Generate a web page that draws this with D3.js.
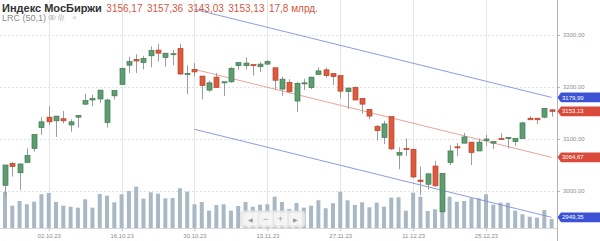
<!DOCTYPE html>
<html>
<head>
<meta charset="utf-8">
<script src="https://cdn.jsdelivr.net/npm/d3@7"></script>
<style>
	body { margin: 0; background: #fff; }
	svg { display: block; font-family: "Liberation Sans", Arial, sans-serif; }
</style>
</head>
<body>
<svg id="chart" width="600" height="241"></svg>
<script>
// trading days (categories)
var dates = [
	"22.09.23","25.09.23","26.09.23","27.09.23","28.09.23","29.09.23",
	"02.10.23","03.10.23","04.10.23","05.10.23","06.10.23",
	"09.10.23","10.10.23","11.10.23","12.10.23","13.10.23",
	"16.10.23","17.10.23","18.10.23","19.10.23","20.10.23",
	"23.10.23","24.10.23","25.10.23","26.10.23","27.10.23",
	"30.10.23","31.10.23","01.11.23","02.11.23","03.11.23",
	"06.11.23","07.11.23","08.11.23","09.11.23","10.11.23",
	"13.11.23","14.11.23","15.11.23","16.11.23","17.11.23",
	"20.11.23","21.11.23","22.11.23","23.11.23","24.11.23",
	"27.11.23","28.11.23","29.11.23","30.11.23","01.12.23",
	"04.12.23","05.12.23","06.12.23","07.12.23","08.12.23",
	"11.12.23","12.12.23","13.12.23","14.12.23","15.12.23",
	"18.12.23","19.12.23","20.12.23","21.12.23","22.12.23",
	"25.12.23","26.12.23","27.12.23","28.12.23","29.12.23",
	"03.01.24","04.01.24","05.01.24","08.01.24","09.01.24"
];
var opens  = [3011,3053,3035,3055,3082,3122,3142,3135,3139,3127,3142,3167,3175,3177,3132,3183,
	3205,3242,3253,3247,3260,3271,3257,3263,3274,3224,3234,3221,3194,3219,3208,3210,3241,3241,
	3243,3239,3244,3237,3196,3209,3173,3206,3199,3224,3233,3226,3222,3191,3199,3178,3157,3124,
	3103,3143,3069,3082,3080,3021,3013,3048,2960,3055,3085,3092,3094,3077,3097,3092,3101,3102,
	3095,3101,3140,3140,3142,3156.17];
var highs  = [3050,3056,3052,3082,3109,3142,3163,3144,3154,3138,3146,3187,3185,3194,3178,3193,
	3236,3258,3263,3260,3278,3283,3265,3271,3283,3242,3246,3221,3212,3227,3210,3238,3248,3257,
	3243,3248,3252,3237,3220,3215,3210,3216,3219,3238,3237,3226,3222,3198,3201,3178,3157,3127,
	3135,3143,3084,3101,3082,3047,3034,3058,3034,3088,3092,3112,3094,3101,3108,3095,3111,3103,
	3101,3133,3144,3140,3159,3157.36];
var lows   = [2990,3028,3002,3055,3076,3108,3127,3104,3130,3114,3122,3165,3163,3169,3122,3176,
	3205,3227,3227,3234,3238,3249,3239,3242,3223,3186,3220,3176,3191,3199,3183,3208,3233,3234,
	3222,3229,3243,3194,3183,3188,3152,3194,3196,3224,3218,3204,3178,3158,3175,3149,3138,3097,
	3090,3079,3042,3067,3025,2992,3003,3008,2960,3050,3067,3092,3050,3077,3087,3081,3099,3082,
	3087,3101,3137,3129,3140,3143.03];
var closes = [3050,3047,3052,3068,3109,3133,3133,3144,3135,3133,3145,3174,3178,3194,3175,3193,
	3236,3249,3250,3255,3270,3265,3265,3264,3225,3226,3229,3203,3208,3199,3210,3236,3247,3246,
	3241,3244,3249,3213,3215,3191,3207,3208,3219,3231,3222,3220,3192,3198,3175,3167,3144,3116,
	3129,3081,3074,3080,3027,3018,3033,3010,3034,3077,3083,3104,3074,3094,3100,3095,3099,3103,
	3101,3131,3137,3137,3159,3153.13];
// volume, млрд руб.
var volumes = [71.8,44.1,53.4,46.9,52.0,66.7,69.2,51.4,44.1,42.1,40.2,56.8,40.2,67.2,63.9,50.8,
	66.7,73.2,81.7,58.0,70.6,67.8,58.7,59.3,78.5,71.8,46.9,51.4,34.2,45.5,46.9,34.2,43.5,51.4,
	42.1,46.1,46.9,61.9,51.4,37.6,49.4,40.2,44.1,54.8,39.0,48.9,71.8,54.8,45.5,50.8,40.9,50.0,
	42.1,59.9,60.7,34.2,69.8,61.9,33.6,37.0,66.0,61.9,52.0,53.4,58.7,58.7,66.7,46.1,50.0,50.0,
	34.2,27.1,22.3,20.4,35.6,17.8];
var tickDates  = ["02.10.23","16.10.23","30.10.23","13.11.23","27.11.23","11.12.23","25.12.23"];
var priceTicks = [3000, 3100, 3200, 3300];
// linear regression channel (50,1): first/last date, centre values, deviation
var lrcDates  = ["30.10.23", "09.01.24"];
var lrcCenter = [3234, 3064.67];
var lrcDev    = 115.32;

var ru = d3.formatLocale({decimal: ",", thousands: " ", grouping: [3], currency: ["", ""]}),
	fmt = ru.format(".2f");

var	svg	= d3.select("#chart"),
	plotRight = 557,
	baseY	= 228,
	up	= {fill: "#5d9d70", stroke: "#3e7a50"},
	down	= {fill: "#dc5b3d", stroke: "#b9432b"};

var	x	= d3.scalePoint().domain(dates).range([5, 551.6]),
	y	= d3.scaleLinear().domain([3000, 3300]).range([191, 35]),
	yVol	= d3.scaleLinear().domain([0, 100]).range([baseY, baseY - 50.6]);

var candles = dates.map(function(d, i) {
	return {date: d, o: opens[i], h: highs[i], l: lows[i], c: closes[i], v: volumes[i]};
});

// grid
var grid = svg.append("g").attr("class", "grid");
grid.selectAll("line.h").data(priceTicks).enter().append("line")
	.attr("x1", 0).attr("x2", plotRight)
	.attr("y1", function(d) { return Math.round(y(d)) + 0.5; })
	.attr("y2", function(d) { return Math.round(y(d)) + 0.5; })
	.attr("stroke", "#e2e2e2").attr("stroke-dasharray", "2,2");
grid.selectAll("line.v").data(tickDates).enter().append("line")
	.attr("x1", function(d) { return Math.round(x(d)) + 0.5; })
	.attr("x2", function(d) { return Math.round(x(d)) + 0.5; })
	.attr("y1", 0).attr("y2", baseY + 3)
	.attr("stroke", "#e6e6e6");

// volume
svg.append("g").selectAll("rect").data(candles).enter().append("rect")
	.attr("x", function(d) { return x(d.date) - 2; })
	.attr("width", 4)
	.attr("y", function(d) { return yVol(d.v); })
	.attr("height", function(d) { return baseY - yVol(d.v); })
	.attr("fill", "#a9b8c5");

svg.append("line").attr("x1", 0).attr("x2", plotRight)
	.attr("y1", baseY + 0.5).attr("y2", baseY + 0.5).attr("stroke", "#d8d8d8");

// LRC channel
var lrc = svg.append("g").attr("fill", "none").attr("stroke-width", 0.9),
	line = d3.line().x(function(d) { return x(d[0]); }).y(function(d) { return y(d[1]); });
[[lrcDev, "#8190da"], [0, "#e69a8e"], [-lrcDev, "#8190da"]].forEach(function(s) {
	lrc.append("path")
		.attr("d", line(lrcDates.map(function(d, i) { return [d, lrcCenter[i] + s[0]]; })))
		.attr("stroke", s[1]);
});

// candles
var g = svg.append("g").selectAll("g").data(candles).enter().append("g");
g.append("line")
	.attr("x1", function(d) { return Math.round(x(d.date)) + 0.5; })
	.attr("x2", function(d) { return Math.round(x(d.date)) + 0.5; })
	.attr("y1", function(d) { return y(d.h); })
	.attr("y2", function(d) { return y(d.l); })
	.attr("stroke", "#9c9c9c");
g.append("rect")
	.attr("x", function(d) { return Math.round(x(d.date)) - 2; })
	.attr("width", 5)
	.attr("y", function(d) { return y(Math.max(d.o, d.c)); })
	.attr("height", function(d) { return Math.max(1, Math.abs(y(d.o) - y(d.c))); })
	.attr("fill", function(d) { return d.c >= d.o ? up.fill : down.fill; })
	.attr("stroke", function(d) { return d.c >= d.o ? up.stroke : down.stroke; })
	.attr("stroke-width", 0.7);

// right axis
var axis = svg.append("g").attr("transform", "translate(" + plotRight + ",0)")
	.call(d3.axisRight(y).tickValues(priceTicks).tickSize(3).tickPadding(3).tickFormat(fmt));
axis.select(".domain").attr("d", "M0.5,0V" + (baseY + 13)).attr("stroke", "#b5b5b5");
axis.selectAll(".tick line").attr("stroke", "#b5b5b5");
axis.selectAll(".tick text").attr("fill", "#8d8d8d").attr("font-size", 6).attr("font-family", null);

// date axis
var xAxis = svg.append("g").attr("transform", "translate(0," + baseY + ")")
	.call(d3.axisBottom(x).tickValues(tickDates).tickSize(3).tickPadding(3));
xAxis.select(".domain").remove();
xAxis.selectAll(".tick line").attr("stroke", "#c8c8c8");
xAxis.selectAll(".tick text").attr("fill", "#8d8d8d").attr("font-size", 6).attr("font-family", null);

// value tags
var tags = [
	{v: lrcCenter[1] + lrcDev, c: "#3c52d4"},
	{v: closes[closes.length - 1], c: "#d94a3a"},
	{v: lrcCenter[1], c: "#d94a3a"},
	{v: lrcCenter[1] - lrcDev, c: "#3c52d4"}
];
var tg = svg.append("g").selectAll("g").data(tags).enter().append("g")
	.attr("transform", function(d) { return "translate(" + plotRight + "," + y(d.v) + ")"; });
tg.append("path").attr("d", "M0.5,0L4,-4.8H43V4.8H4Z").attr("fill", function(d) { return d.c; });
tg.append("text").attr("x", 5).attr("dy", "0.35em").attr("fill", "#fff").attr("font-size", 6)
	.text(function(d) { return fmt(d.v); });

// scroll/zoom control
var nav = svg.append("g").attr("transform", "translate(241,211)");
nav.append("rect").attr("width", 64).attr("height", 16).attr("rx", 3)
	.attr("fill", "#eeeeee").attr("fill-opacity", 0.85).attr("stroke", "#dcdcdc");
["◀", "−", "+", "▶"].forEach(function(s, i) {
	nav.append("rect").attr("x", 3 + i * 15).attr("y", 2).attr("width", 13).attr("height", 12).attr("rx", 2)
		.attr("fill", "#f6f6f6").attr("fill-opacity", 0.8);
	nav.append("text").attr("x", 9.5 + i * 15).attr("y", 10.5).attr("text-anchor", "middle")
		.attr("font-size", i == 0 || i == 3 ? 6 : 9).attr("fill", "#9a9a9a").text(s);
});

// header
var last = candles[candles.length - 1];
var head = svg.append("text").attr("x", 2).attr("y", 11.5).attr("font-size", 10);
head.append("tspan").attr("font-weight", "bold").attr("font-size", 11).attr("fill", "#333").text("Индекс МосБиржи");
[fmt(last.o), fmt(last.h), fmt(last.l), fmt(last.c), ru.format(".1f")(last.v) + " млрд."].forEach(function(t) {
	head.append("tspan").attr("fill", "#d2573f").attr("dx", 4.5).text(t);
});

svg.append("text").attr("x", 2).attr("y", 21).attr("font-size", 9).attr("fill", "#8a8a8a").text("LRC (50,1)");
var icons = svg.append("g").attr("stroke", "#c4c4c4").attr("fill", "none");
icons.append("ellipse").attr("cx", 52).attr("cy", 17.5).attr("rx", 3.5).attr("ry", 2);
icons.append("circle").attr("cx", 52).attr("cy", 17.5).attr("r", 1).attr("fill", "#c4c4c4");
icons.append("circle").attr("cx", 61).attr("cy", 17.5).attr("r", 2.6).attr("stroke-width", 1.6).attr("stroke-dasharray", "1.2,0.8");
icons.append("circle").attr("cx", 61).attr("cy", 17.5).attr("r", 0.8);
svg.append("text").attr("x", 74.5).attr("y", 20).attr("text-anchor", "middle").attr("font-size", 8).attr("fill", "#c4c4c4").text("×");
</script>
</body>
</html>
